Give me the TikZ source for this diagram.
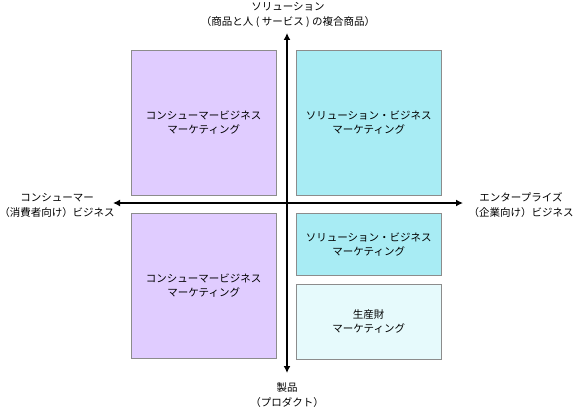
\documentclass[tikz,border=0pt]{standalone}
\usepackage{fontspec}
\setmainfont{Noto Sans CJK JP}
\usetikzlibrary{positioning, arrows.meta}

\definecolor{consumer}{HTML}{E0CCFF}
\definecolor{solution}{HTML}{A8ECF4}
\definecolor{product}{HTML}{E6FAFC}

\begin{document}
\begin{tikzpicture}[>={Latex[length=7pt,width=7pt]}, x=1pt, y=-1pt] % 1 unit = 1 pixel, y downwards
    % Styles for the quadrant boxes and axis labels
    \tikzset{
        quadbox/.style={
            draw=black!45,
            fill=#1,
            anchor=north west,
            align=center,
            inner sep=0pt,
            font=\fontsize{10.5}{14}\selectfont
        },
        axislabel/.style={
            align=center,
            inner sep=0pt,
            font=\fontsize{10.5}{15}\selectfont
        }
    }

    \useasboundingbox (0,0) rectangle (579,412);

    % --- Quadrants ---
    \node[quadbox=consumer, minimum width=145pt, minimum height=145pt] (consumerTop) at (131,50)
        {コンシューマービジネス\\マーケティング};
    \node[quadbox=solution, minimum width=145pt, minimum height=145pt] (solutionTop) at (296,50)
        {ソリューション・ビジネス\\マーケティング};
    \node[quadbox=consumer, minimum width=145pt, minimum height=145pt] (consumerBottom) at (131,213)
        {コンシューマービジネス\\マーケティング};
    \node[quadbox=solution, minimum width=145pt, minimum height=62pt] (solutionBottom) at (296,213)
        {ソリューション・ビジネス\\マーケティング};
    \node[quadbox=product, minimum width=145pt, minimum height=75pt] (productGoods) at (296,284)
        {生産財\\マーケティング};

    % --- Axes ---
    \coordinate (west) at (113,203);
    \coordinate (east) at (463,203);
    \coordinate (north) at (287,33);
    \coordinate (south) at (287,373);
    \draw[<->, line width=1.5pt] (west) -- (east);
    \draw[<->, line width=1.5pt] (north) -- (south);

    % --- Axis labels ---
    \node[axislabel] (solutionLabel) at (288,15)
        {ソリューション\\（商品と人 ( サービス ) の複合商品）};
    \node[axislabel] (consumerLabel) at (57,205)
        {コンシューマー\\（消費者向け）ビジネス};
    \node[axislabel] (enterpriseLabel) at (521,205)
        {エンタープライズ\\（企業向け）ビジネス};
    \node[axislabel] (productLabel) at (287,395)
        {製品\\（プロダクト）};

\end{tikzpicture}
\end{document}
